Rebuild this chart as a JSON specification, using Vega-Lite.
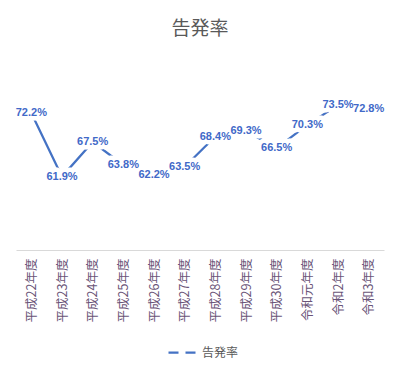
{
  "$schema": "https://vega.github.io/schema/vega-lite/v6.json",
  "width": 368,
  "height": 185,
  "padding": {"left": 15, "top": 20, "right": 17, "bottom": 5},
  "title": {"text": "告発率", "fontSize": 19, "font": "Noto Sans CJK JP", "fontWeight": "normal", "color": "#595959", "offset": 26},
  "config": {"view": {"stroke": null}, "font": "Noto Sans CJK JP"},
  "data": {"values": [
    {"year": "平成22年度", "rate": 72.2, "label": "72.2%", "series": "告発率"},
    {"year": "平成23年度", "rate": 61.9, "label": "61.9%", "series": "告発率"},
    {"year": "平成24年度", "rate": 67.5, "label": "67.5%", "series": "告発率"},
    {"year": "平成25年度", "rate": 63.8, "label": "63.8%", "series": "告発率"},
    {"year": "平成26年度", "rate": 62.2, "label": "62.2%", "series": "告発率"},
    {"year": "平成27年度", "rate": 63.5, "label": "63.5%", "series": "告発率"},
    {"year": "平成28年度", "rate": 68.4, "label": "68.4%", "series": "告発率"},
    {"year": "平成29年度", "rate": 69.3, "label": "69.3%", "series": "告発率"},
    {"year": "平成30年度", "rate": 66.5, "label": "66.5%", "series": "告発率"},
    {"year": "令和元年度", "rate": 70.3, "label": "70.3%", "series": "告発率"},
    {"year": "令和2年度", "rate": 73.5, "label": "73.5%", "series": "告発率"},
    {"year": "令和3年度", "rate": 72.8, "label": "72.8%", "series": "告発率"}
  ]},
  "encoding": {
    "x": {"field": "year", "type": "nominal", "sort": null, "title": null,
      "scale": {"type": "point", "padding": 0.5},
      "axis": {"labelAngle": 270, "labelFontSize": 12.5, "labelColor": "#6a5478", "labelPadding": 8, "ticks": false, "domainColor": "#d9d9d9", "domainWidth": 1, "grid": false, "labelFont": "Noto Sans CJK JP"}},
    "y": {"field": "rate", "type": "quantitative", "scale": {"domain": [50, 80]}, "axis": null}
  },
  "layer": [
    {"mark": {"type": "line", "strokeWidth": 2.25},
     "encoding": {"color": {"field": "series", "type": "nominal", "scale": {"range": ["#4472C4"]},
       "legend": {"orient": "none", "legendX": 151, "legendY": 271, "direction": "horizontal", "title": null, "symbolType": "stroke", "symbolDash": [10, 7], "symbolStrokeWidth": 2.25, "symbolSize": 900, "labelOffset": 2, "labelFontSize": 12, "labelColor": "#595959", "labelFont": "Noto Sans CJK JP"}}}},
    {"mark": {"type": "text", "font": "Liberation Sans", "fontSize": 11, "fontWeight": "bold", "fill": "white", "stroke": "white", "strokeWidth": 9, "strokeJoin": "round"},
     "encoding": {"text": {"field": "label"}}},
    {"mark": {"type": "text", "font": "Liberation Sans", "fontSize": 11, "fontWeight": "bold", "color": "#4169C8"},
     "encoding": {"text": {"field": "label"}}}
  ]
}
